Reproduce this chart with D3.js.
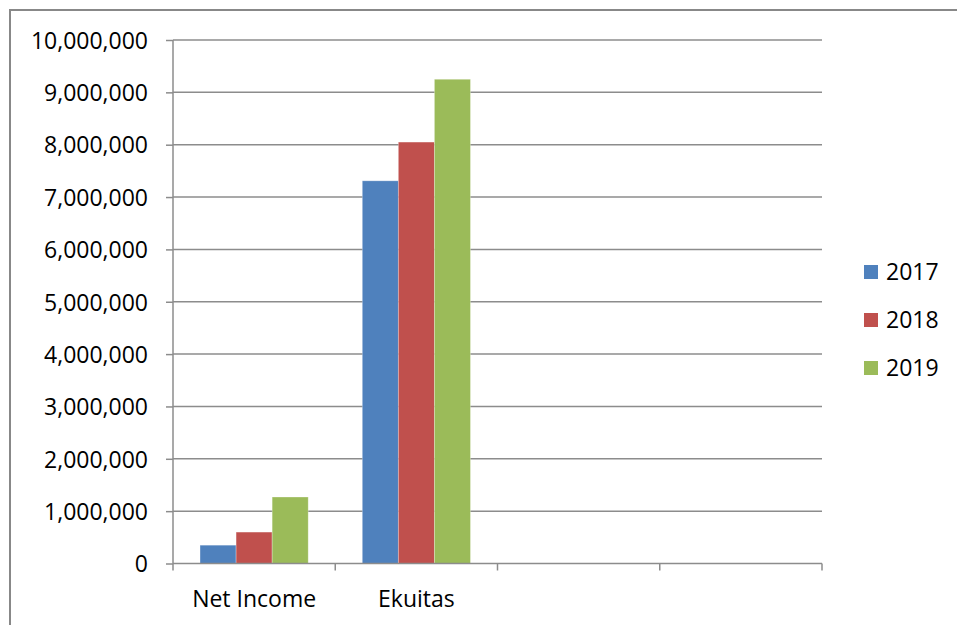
<!DOCTYPE html>
<html>
<head>
<meta charset="utf-8">
<script src="https://cdn.jsdelivr.net/npm/d3@7"></script>
<style>
  body { margin: 0; background: #fff; }
  svg { display: block; }
</style>
</head>
<body>
<script>
// data
const categories = ['Net Income', 'Ekuitas', '', '']
const years = ['2017', '2018', '2019']
const values2017 = [350000, 7310000]
const values2018 = [600000, 8050000]
const values2019 = [1270000, 9250000]
const yTicks = [0, 1000000, 2000000, 3000000, 4000000, 5000000, 6000000, 7000000, 8000000, 9000000, 10000000]
const colors = ['#4F81BD', '#C0504D', '#9BBB59']

const seriesValues = [values2017, values2018, values2019]
const W = 957, H = 625
const plot = { left: 173, right: 822, top: 40, bottom: 563.5 }
const font = '"Open Sans", "Liberation Sans", sans-serif'
const fontSize = 23
const gridColor = '#8c8c8c'

const svg = d3.select('body').append('svg').attr('width', W).attr('height', H)

// outer chart border (right and bottom edges fall outside the picture)
svg.append('rect').attr('x', 10).attr('y', 10)
  .attr('width', W + 50).attr('height', H + 50)
  .attr('fill', 'white').attr('stroke', '#888').attr('stroke-width', 2)

const x = d3.scaleBand().domain(d3.range(categories.length))
  .range([plot.left, plot.right]).paddingInner(0).paddingOuter(0)
const bw = x.bandwidth()
const edge = bw * 0.75 / 4.5
const xs = d3.scaleBand().domain(years).range([edge, bw - edge]).padding(0)
const y = d3.scaleLinear().domain([0, 10000000]).range([plot.bottom, plot.top])

// gridlines
svg.append('g').selectAll('line').data(yTicks.slice(1)).join('line')
  .attr('x1', plot.left).attr('x2', plot.right)
  .attr('y1', d => y(d)).attr('y2', d => y(d))
  .attr('stroke', gridColor).attr('stroke-width', 1.5)

// bars
years.forEach((yr, si) => {
  svg.append('g').selectAll('rect').data(seriesValues[si]).join('rect')
    .attr('x', (d, i) => x(i) + xs(yr))
    .attr('width', xs.bandwidth())
    .attr('y', d => y(d))
    .attr('height', d => y(0) - y(d))
    .attr('fill', colors[si])
    .attr('stroke', 'rgba(255,255,255,0.35)').attr('stroke-width', 0.8)
})

// y axis
const yAxis = d3.axisLeft(y).tickValues(yTicks).tickFormat(d3.format(',')).tickSize(7).tickPadding(18)
const gy = svg.append('g').attr('transform', `translate(${plot.left},0)`).call(yAxis)
gy.select('.domain').attr('stroke', gridColor).attr('stroke-width', 1.5).attr('d', `M-0,${plot.top}V${plot.bottom}`)
gy.selectAll('.tick line').attr('stroke', gridColor).attr('stroke-width', 1.5)
gy.selectAll('.tick text').attr('font-family', font).attr('font-size', fontSize).attr('fill', '#000')
  .attr('dy', '0.36em')

// x axis: ticks at category boundaries, labels centred in bands
const xEdges = d3.range(categories.length + 1).map(i => plot.left + i * bw)
const gx = svg.append('g')
gx.append('line').attr('x1', plot.left).attr('x2', plot.right)
  .attr('y1', plot.bottom).attr('y2', plot.bottom)
  .attr('stroke', gridColor).attr('stroke-width', 1.5)
gx.selectAll('line.tk').data(xEdges).join('line').attr('class', 'tk')
  .attr('x1', d => d).attr('x2', d => d)
  .attr('y1', plot.bottom).attr('y2', plot.bottom + 7)
  .attr('stroke', gridColor).attr('stroke-width', 1.5)
gx.selectAll('text').data(categories).join('text')
  .attr('x', (d, i) => x(i) + bw / 2).attr('y', 607)
  .attr('text-anchor', 'middle')
  .attr('font-family', font).attr('font-size', fontSize).attr('fill', '#000')
  .text(d => d)

// legend
const lg = svg.append('g')
years.forEach((yr, i) => {
  const cy = 272 + i * 48
  lg.append('rect').attr('x', 864).attr('y', cy - 7).attr('width', 14).attr('height', 14).attr('fill', colors[i])
  lg.append('text').attr('x', 886).attr('y', cy).attr('dy', '0.36em')
    .attr('font-family', font).attr('font-size', fontSize).attr('fill', '#000').text(yr)
})
</script>
</body>
</html>
